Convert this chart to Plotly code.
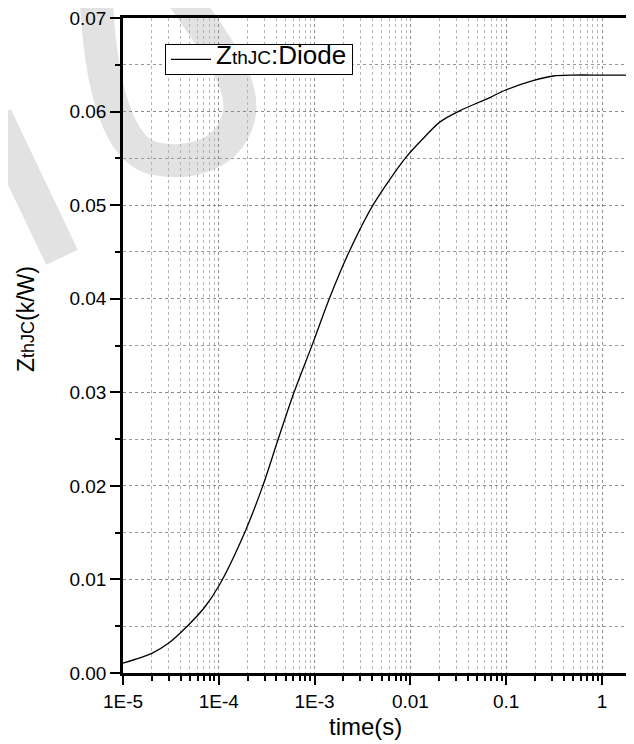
import plotly.graph_objects as go

# ---- data ----
time_s = [1e-5, 2e-5, 3e-5, 4.68e-5, 7.08e-5, 1e-4, 1.86e-4, 2.88e-4, 4.17e-4,
          6.1e-4, 9.55e-4, 1.41e-3, 2.29e-3, 4.07e-3, 8.8e-3, 1.35e-2, 2.04e-2,
          3.3e-2, 6.76e-2, 9.33e-2, 0.19, 0.31, 0.5, 1.0, 2.1]
zth = [0.00106, 0.0021, 0.0032, 0.0050, 0.0070, 0.0093, 0.0150, 0.0200, 0.0250,
       0.0300, 0.0352, 0.0399, 0.0450, 0.0500, 0.0550, 0.0571, 0.0589,
       0.0601, 0.0615, 0.0622, 0.0633, 0.0638, 0.0639, 0.0639, 0.0639]

x_tickvals = [1e-5, 1e-4, 1e-3, 1e-2, 1e-1, 1]
x_ticktext = ["1E-5", "1E-4", "1E-3", "0.01", "0.1", "1"]
y_tickvals = [0.00, 0.01, 0.02, 0.03, 0.04, 0.05, 0.06, 0.07]

FONT = "Liberation Sans, Arial, sans-serif"
OFF = 8                       # default page body margin
W, H = 634 - OFF, 744 - OFF
L, T, B = 123 - OFF, 16 - OFF, 71
PW, PH = W - L, H - T - B


def paper(px, py):
    """page pixel -> paper coordinate"""
    return (px - OFF - L) / PW, (H - B - (py - OFF)) / PH


def path(points):
    s = ""
    for cmd, pts in points:
        s += cmd + " ".join("%.4f,%.4f" % paper(*p) for p in pts) + " "
    return s.strip()


legend_name = ('<span style="font-size:26px">Z</span>'
               '<span style="font-size:19px">thJC</span>'
               '<span style="font-size:26px">:Diode</span>')

fig = go.Figure()
fig.add_trace(go.Scatter(
    x=time_s, y=zth, mode="lines",
    line=dict(color="black", width=1.3, shape="spline", smoothing=0.8),
    name=legend_name, showlegend=True,
))

wm = "#e2e2e2"
shapes = [
    dict(type="path", xref="paper", yref="paper", layer="below",
         path=path([("M", [(180, -10)]),
                    ("C", [(205, 30), (250, 80), (238, 118)]),
                    ("C", [(225, 160), (180, 162), (155, 157)]),
                    ("C", [(120, 150), (100, 90), (96, -10)])]),
         line=dict(color=wm, width=33)),
    dict(type="path", xref="paper", yref="paper", layer="below",
         path=path([("M", [(-5, 115)]), ("L", [(62, 256)])]),
         line=dict(color=wm, width=35)),
]

fig.update_layout(
    width=W, height=H,
    margin=dict(l=L, r=0, t=T, b=B, pad=0),
    paper_bgcolor="white", plot_bgcolor="rgba(0,0,0,0)",
    font=dict(family=FONT, color="black", size=19),
    shapes=shapes,
    showlegend=True,
    legend=dict(x=paper(165, 0)[0], y=paper(0, 42)[1], xanchor="left", yanchor="top",
                bgcolor="white", bordercolor="black", borderwidth=1,
                font=dict(family=FONT, size=12, color="black"),
                itemwidth=40, tracegroupgap=0),
    annotations=[
        dict(text='Z<span style="font-size:18px">thJC</span>(k/W)', textangle=-90,
             xref="paper", yref="paper", x=paper(26, 0)[0], y=paper(0, 318)[1],
             xanchor="center", yanchor="middle", showarrow=False,
             font=dict(family=FONT, size=23, color="black")),
        dict(text="time(s)", xref="paper", yref="paper",
             x=paper(365, 0)[0], y=paper(0, 727)[1],
             xanchor="center", yanchor="middle", showarrow=False,
             font=dict(family=FONT, size=24, color="black")),
    ],
)

fig.update_xaxes(
    type="log", range=[-5, 0.334],
    tickvals=x_tickvals, ticktext=x_ticktext,
    showline=True, linecolor="black", linewidth=2.5, mirror=True,
    ticks="outside", ticklen=9, tickwidth=2, tickcolor="black",
    showgrid=True, gridcolor="#8c8c8c", griddash="dot", gridwidth=1,
    zeroline=False, ticklabeloverflow="allow",
    tickfont=dict(family=FONT, size=19),
    minor=dict(dtick="D1", ticks="outside", ticklen=5, tickwidth=1.5, tickcolor="black",
               showgrid=True, gridcolor="#b5b5b5", griddash="dot", gridwidth=1),
)
fig.update_yaxes(
    range=[0, 0.07], tickvals=y_tickvals, tickformat=".2f",
    showline=True, linecolor="black", linewidth=2.5, mirror=False,
    ticks="outside", ticklen=10, tickwidth=2, tickcolor="black",
    showgrid=True, gridcolor="#8c8c8c", griddash="dot", gridwidth=1,
    zeroline=False, ticklabeloverflow="allow",
    tickfont=dict(family=FONT, size=19),
    minor=dict(dtick=0.005, ticks="outside", ticklen=5, tickwidth=2, tickcolor="black",
               showgrid=True, gridcolor="#9a9a9a", griddash="dot", gridwidth=1),
)

fig.write_html("out.html")
